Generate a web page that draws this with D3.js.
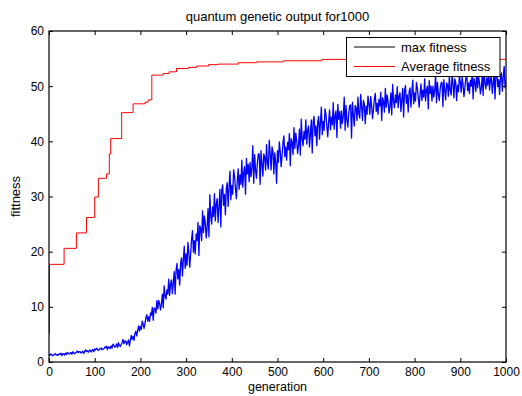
<!DOCTYPE html>
<html>
<head>
<meta charset="utf-8">
<script src="https://cdn.jsdelivr.net/npm/d3@7"></script>
<style>
  html, body { margin: 0; padding: 0; background: #fff; }
  svg { display: block; font-family: "Liberation Sans", Arial, sans-serif; }
</style>
</head>
<body>
<svg id="chart" width="522" height="396"></svg>
<script>
// ---------- data ----------
const titleText = "quantum genetic output for1000";
const xLabel = "generation";
const yLabel = "fittness";
const xTicks = [0, 100, 200, 300, 400, 500, 600, 700, 800, 900, 1000];
const yTicks = [0, 10, 20, 30, 40, 50, 60];
const seriesNames = ["max fitness", "Average fitness"];

// Average fitness (red) – step change points (generation, value)
const avgGen = [0, 1, 33, 60, 82, 100, 108, 126, 132, 135, 159, 184, 210, 217, 225, 250, 263, 279, 305, 323, 349, 370, 414, 454, 513, 597, 1000];
const avgVal = [5.2, 17.7, 20.6, 23.4, 26.2, 29.9, 33.3, 34.1, 37.7, 40.5, 45.2, 46.8, 47.1, 47.5, 52.0, 52.3, 52.6, 53.2, 53.4, 53.65, 53.9, 54.0, 54.25, 54.4, 54.6, 54.85, 54.85];

// max fitness (blue) – sampled every 2 generations, 0..1000
const maxGenStep = 2;
const maxVal = [
  1.36, 1.2, 1.46, 1.32, 1.12, 1.26, 1.42, 1.5, 1.22, 1.34,
  1.26, 1.48, 1.38, 1.58, 1.16, 1.5, 1.44, 1.28, 1.62, 1.34,
  1.72, 1.62, 1.44, 1.54, 1.74, 1.4, 1.86, 1.6, 1.5, 1.68,
  1.76, 2.0, 1.68, 1.86, 1.9, 1.62, 1.78, 1.96, 1.52, 1.92,
  2.2, 1.91, 2.04, 1.76, 2.09, 2.15, 1.82, 2.07, 2.26, 1.87,
  2.38, 2.18, 2.5, 2.33, 2.08, 2.25, 2.45, 2.55, 2.2, 2.35,
  2.39, 2.72, 2.57, 2.87, 2.24, 2.75, 2.66, 2.42, 2.93, 2.51,
  3.24, 3.04, 2.68, 2.88, 3.28, 2.6, 3.52, 3.0, 2.8, 3.16,
  3.5, 4.1, 3.3, 3.75, 3.85, 3.15, 3.55, 4.0, 2.9, 3.9,
  4.83, 4.12, 4.64, 3.93, 5.18, 5.59, 4.74, 5.71, 6.54, 5.58,
  6.5, 5.9, 7.4, 6.9, 6.1, 7.0, 8.0, 8.6, 7.4, 8.2,
  7.36, 8.88, 8.48, 9.88, 7.56, 9.8, 9.64, 8.88, 11.12, 9.64,
  11.16, 10.61, 9.42, 10.47, 12.32, 9.85, 13.78, 11.95, 11.4, 13.09,
  12.3, 15.0, 12.1, 14.2, 14.9, 12.4, 14.3, 16.4, 12.3, 16.6,
  17.86, 15.04, 16.78, 13.96, 17.86, 18.88, 15.58, 18.52, 20.98, 16.96,
  19.6, 17.5, 21.7, 19.9, 17.2, 19.6, 22.3, 23.8, 19.9, 22.0,
  19.6, 23.2, 22.0, 25.3, 19.3, 24.7, 24.1, 22.0, 27.4, 23.5,
  26.5, 25.2, 22.5, 24.4, 27.8, 22.7, 30.3, 26.4, 25.0, 28.1,
  26.4, 30.5, 25.6, 28.7, 29.6, 25.3, 28.1, 31.3, 24.5, 31.1,
  32.1, 28.4, 30.4, 26.7, 31.4, 32.5, 28.2, 31.7, 34.6, 29.4,
  32.0, 30.4, 34.8, 33.75, 31.5, 29.6, 32.75, 35.0, 31.3, 33.9,
  32.2, 36.6, 31.7, 34.3, 35.4, 30.4, 36.9, 34.1, 35.8, 32.7,
  36.2, 33.6, 35.2, 39.2, 32.4, 37.6, 34.7, 33.3, 36.1, 37.7,
  37.7, 32.2, 38.3, 35.9, 33.7, 37.7, 37.1, 34.8, 39.4, 36.0,
  35.0, 40.2, 37.7, 34.8, 39.0, 38.2, 34.1, 37.9, 36.3, 32.4,
  38.3, 36.2, 39.9, 38.1, 35.4, 37.4, 39.8, 41.0, 37.2, 39.0,
  36.6, 39.8, 38.5, 41.4, 35.6, 40.5, 39.8, 37.6, 42.5, 38.7,
  41.5, 40.2, 37.8, 39.3, 42.2, 37.5, 44.0, 40.5, 39.2, 41.8,
  40.4, 43.9, 39.5, 42.1, 42.8, 39.0, 41.3, 43.9, 37.9, 43.6,
  44.5, 41.0, 42.8, 39.2, 43.5, 44.5, 40.4, 43.5, 46.2, 41.2,
  43.6, 42.0, 45.9, 44.9, 42.7, 40.8, 43.7, 45.7, 42.1, 44.4,
  43.0, 47.0, 42.2, 44.6, 45.5, 40.7, 46.7, 44.0, 45.4, 42.4,
  45.5, 43.2, 44.6, 48.0, 42.0, 46.5, 43.9, 42.6, 45.1, 46.5,
  46.6, 40.6, 47.1, 44.8, 42.8, 46.5, 46.1, 43.8, 48.0, 45.0,
  44.2, 48.5, 46.3, 43.8, 47.4, 46.8, 43.2, 46.4, 44.9, 48.2,
  46.8, 44.9, 48.1, 46.4, 44.1, 45.8, 47.7, 48.7, 45.4, 46.9,
  44.9, 47.6, 46.4, 48.9, 43.8, 47.9, 47.2, 45.3, 49.6, 46.2,
  48.4, 47.2, 45.1, 46.4, 48.8, 44.8, 50.3, 47.3, 46.1, 48.4,
  47.0, 49.9, 46.1, 48.2, 48.8, 45.4, 47.5, 49.6, 44.4, 49.2,
  50.1, 46.9, 48.4, 45.3, 49.0, 49.7, 46.2, 48.8, 51.1, 46.8,
  48.8, 47.3, 50.7, 49.7, 47.9, 46.2, 48.6, 50.4, 47.4, 49.3,
  48.0, 51.3, 47.3, 49.3, 50.0, 45.9, 51.0, 48.7, 50.0, 47.3,
  50.0, 48.0, 49.2, 52.1, 47.0, 50.7, 48.5, 47.4, 49.5, 50.6,
  50.7, 46.3, 51.2, 49.3, 47.5, 50.6, 50.2, 48.2, 51.8, 49.2,
  48.4, 52.3, 50.4, 47.9, 51.3, 50.7, 47.4, 50.2, 49.0, 51.9,
  50.7, 48.9, 51.8, 50.3, 48.1, 49.7, 51.4, 52.3, 49.2, 50.6,
  48.7, 51.1, 50.0, 52.3, 47.7, 51.4, 50.7, 49.0, 52.7, 49.7,
  51.7, 50.6, 48.6, 49.7, 52.0, 48.3, 53.4, 50.5, 49.5, 51.5,
  50.2, 52.8, 49.3, 51.3, 51.7, 48.7, 50.5, 52.5, 47.7, 52.1,
  52.8, 49.9, 51.2, 48.5, 51.8, 52.4, 49.1, 51.7, 53.6, 49.7,
  51.2
];

// ---------- layout ----------
const L = 49, R = 506, T = 31, B = 362;
const svg = d3.select("#chart");
const x = d3.scaleLinear().domain([0, 1000]).range([L, R]);
const y = d3.scaleLinear().domain([0, 60]).range([B, T]);
const FS = 13;
const TFS = 12;

svg.append("defs").append("clipPath").attr("id", "plotclip")
  .append("rect").attr("x", L).attr("y", T).attr("width", R - L).attr("height", B - T);

// lines
const avgData = avgGen.map((g, i) => [g, avgVal[i]]);
const maxData = maxVal.map((v, i) => [i * maxGenStep, v]);

const plot = svg.append("g").attr("clip-path", "url(#plotclip)");
plot.append("path")
  .datum(maxData)
  .attr("fill", "none").attr("stroke", "#0000ff").attr("stroke-width", 1.3)
  .attr("stroke-linejoin", "round")
  .attr("d", d3.line().x(d => x(d[0])).y(d => y(d[1])));
plot.append("path")
  .datum(avgData)
  .attr("fill", "none").attr("stroke", "#ff0000").attr("stroke-width", 1)
  .attr("d", d3.line().curve(d3.curveStepAfter).x(d => x(d[0])).y(d => y(d[1])));

// axes
function styleAxis(g, showLabels) {
  g.select(".domain").remove();
  g.selectAll(".tick line").attr("stroke", "#000");
  g.selectAll(".tick text").attr("fill", "#000").style("font-size", TFS + "px")
    .style("font-family", '"Liberation Sans", Arial, sans-serif');
  if (!showLabels) g.selectAll(".tick text").remove();
}
svg.append("g").attr("transform", `translate(0,${B})`)
  .call(d3.axisBottom(x).tickValues(xTicks).tickSize(-4).tickPadding(5).tickFormat(d3.format("d")))
  .call(g => styleAxis(g, true));
svg.append("g").attr("transform", `translate(0,${T})`)
  .call(d3.axisTop(x).tickValues(xTicks).tickSize(-4))
  .call(g => styleAxis(g, false));
svg.append("g").attr("transform", `translate(${L},0)`)
  .call(d3.axisLeft(y).tickValues(yTicks).tickSize(-4).tickPadding(5).tickFormat(d3.format("d")))
  .call(g => styleAxis(g, true));
svg.append("g").attr("transform", `translate(${R},0)`)
  .call(d3.axisRight(y).tickValues(yTicks).tickSize(-4))
  .call(g => styleAxis(g, false));

// box
svg.append("rect").attr("x", L).attr("y", T).attr("width", R - L).attr("height", B - T)
  .attr("fill", "none").attr("stroke", "#000").attr("stroke-width", 1.2);

// title & labels
svg.append("text").attr("x", (L + R) / 2).attr("y", 21).attr("text-anchor", "middle")
  .style("font-size", FS + "px").attr("fill", "#000").text(titleText);
svg.append("text").attr("x", (L + R) / 2).attr("y", 390.5).attr("text-anchor", "middle")
  .style("font-size", "12.5px").attr("fill", "#000").text(xLabel);
svg.append("text").attr("transform", `translate(20,${(T + B) / 2}) rotate(-90)`)
  .attr("text-anchor", "middle")
  .style("font-size", FS + "px").attr("fill", "#000").text(yLabel);

// legend
const lg = svg.append("g");
lg.append("rect").attr("x", 346.5).attr("y", 37.5).attr("width", 153.5).attr("height", 39)
  .attr("fill", "#fff").attr("stroke", "#000").attr("stroke-width", 1);
const legendColors = ["#000000", "#ff0000"];
seriesNames.forEach((name, i) => {
  const yy = 47 + i * 19.5;
  lg.append("line").attr("x1", 354).attr("x2", 395).attr("y1", yy).attr("y2", yy)
    .attr("stroke", legendColors[i]).attr("stroke-width", 1);
  lg.append("text").attr("x", 401).attr("y", yy + 4.5)
    .style("font-size", FS + "px").attr("fill", "#000").text(name);
});
</script>
</body>
</html>
